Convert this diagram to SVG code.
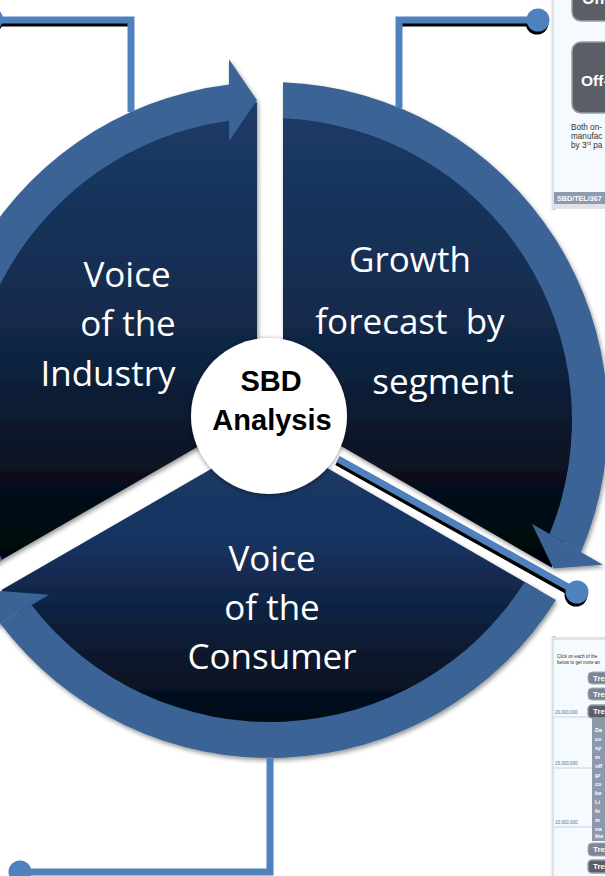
<svg xmlns="http://www.w3.org/2000/svg" width="605" height="876" viewBox="0 0 605 876">
  <defs>
    <style>
      .ring { fill: #3a6496; }
      .label { font-family: "Open Sans", "Liberation Sans", sans-serif; font-size: 35px; fill: #ffffff; text-anchor: middle; }
      .hub { font-family: "Liberation Sans", Arial, sans-serif; font-weight: bold; font-size: 29px; fill: #000000; text-anchor: middle; }
      .wire { fill: none; stroke: #4f81bd; stroke-width: 7; }
      .wire-shadow { fill: none; stroke: #000000; stroke-width: 7; }
      .dot { fill: #4f81bd; }
      .dot-shadow { fill: #000000; }
      .panel { fill: #f4fafd; }
      .btn { fill: #5b5e66; stroke: #9a9ea6; stroke-width: 1.5; }
      .btn-light { fill: #7d8494; stroke: #a9afb9; stroke-width: 1; }
      .btn-text { font-family: "Liberation Sans", Arial, sans-serif; font-weight: bold; fill: #ffffff; }
      .small { font-family: "Liberation Sans", Arial, sans-serif; fill: #333333; }
      .axis { font-family: "Liberation Sans", Arial, sans-serif; font-size: 4.5px; fill: #5a6f92; }
      .grid { stroke: #b9c9dd; stroke-width: 0.8; }
    </style>
    <linearGradient id="darkUpper" gradientUnits="userSpaceOnUse" x1="0" y1="102" x2="0" y2="567">
      <stop offset="0" stop-color="#1c3b68"/>
      <stop offset="0.45" stop-color="#132b4c"/>
      <stop offset="0.8" stop-color="#07111f"/>
      <stop offset="1" stop-color="#010408"/>
    </linearGradient>
    <linearGradient id="darkLower" gradientUnits="userSpaceOnUse" x1="0" y1="435" x2="0" y2="738">
      <stop offset="0" stop-color="#1c3b67"/>
      <stop offset="0.35" stop-color="#173360"/>
      <stop offset="0.7" stop-color="#0b1a30"/>
      <stop offset="1" stop-color="#010810"/>
    </linearGradient>
    <linearGradient id="panelEdge" x1="0" y1="0" x2="1" y2="0">
      <stop offset="0" stop-color="#ffffff" stop-opacity="0"/>
      <stop offset="1" stop-color="#9aa2ab"/>
    </linearGradient>
    <filter id="segShadow" x="-10%" y="-10%" width="120%" height="120%">
      <feDropShadow dx="1.5" dy="2.5" stdDeviation="2" flood-color="#000000" flood-opacity="0.4"/>
    </filter>
    <filter id="hubGlow" x="-20%" y="-20%" width="140%" height="140%">
      <feDropShadow dx="0" dy="1" stdDeviation="2.5" flood-color="#000000" flood-opacity="0.45"/>
    </filter>
    <filter id="wireBlur" x="-5%" y="-5%" width="110%" height="110%">
      <feGaussianBlur stdDeviation="0.6"/>
    </filter>
  </defs>

  <rect width="605" height="876" fill="#ffffff"/>

  <!-- slide preview, top right -->
  <g id="preview-top">
    <rect x="549" y="-5" width="6" height="215" fill="url(#panelEdge)"/>
    <rect x="553" y="-5" width="55" height="214" fill="#dfe3e8"/>
    <rect x="554" y="-5" width="54" height="198" class="panel"/>
    <rect x="572" y="-20" width="45" height="41" rx="9" class="btn"/>
    <text x="582" y="4" class="btn-text" font-size="16">On-</text>
    <rect x="572" y="42" width="45" height="71" rx="9" class="btn"/>
    <text x="581" y="86" class="btn-text" font-size="15.5">Off-</text>
    <text class="small" font-size="8.2">
      <tspan x="571" y="130">Both on-</tspan>
      <tspan x="571" y="139">manufac</tspan>
      <tspan x="571" y="148">by 3<tspan font-size="5" dy="-3">rd</tspan><tspan dy="3"> pa</tspan></tspan>
    </text>
    <rect x="554" y="192" width="54" height="12" fill="#8d9ab0"/>
    <text x="557" y="201" class="btn-text" font-size="7.2">SBD/TEL/367</text>
  </g>

  <!-- slide preview, bottom right -->
  <g id="preview-bottom">
    <rect x="549" y="636" width="6" height="245" fill="url(#panelEdge)"/>
    <rect x="553" y="637" width="55" height="245" fill="#dfe3e8"/>
    <rect x="554" y="640" width="54" height="240" class="panel"/>
    <text class="small" font-size="4.6" fill="#555555">
      <tspan x="557" y="658">Click on each of the</tspan>
      <tspan x="557" y="664">below to get more an</tspan>
    </text>
    <line x1="554" y1="717" x2="608" y2="717" class="grid"/>
    <line x1="554" y1="768" x2="608" y2="768" class="grid"/>
    <line x1="554" y1="827" x2="608" y2="827" class="grid"/>
    <text x="555" y="714" class="axis">20,000,000</text>
    <text x="555" y="765" class="axis">15,000,000</text>
    <text x="555" y="824" class="axis">10,000,000</text>
    <rect x="588" y="672" width="25" height="12" rx="4" class="btn-light"/>
    <text x="593" y="681" class="btn-text" font-size="8">Tre</text>
    <rect x="588" y="688" width="25" height="12" rx="4" class="btn-light" fill="#6a717e"/>
    <text x="593" y="697" class="btn-text" font-size="8">Tre</text>
    <rect x="588" y="705" width="25" height="13" rx="4" class="btn"/>
    <text x="593" y="714" class="btn-text" font-size="8">Tre</text>
    <rect x="592" y="718" width="16" height="123" fill="#8e98ab"/>
    <text class="btn-text" font-size="5.6" font-weight="normal">
      <tspan x="595" y="732">Da</tspan>
      <tspan x="595" y="741">co</tspan>
      <tspan x="595" y="750">sy</tspan>
      <tspan x="595" y="759">m</tspan>
      <tspan x="595" y="768">off</tspan>
      <tspan x="595" y="777">gr</tspan>
      <tspan x="595" y="786">co</tspan>
      <tspan x="595" y="795">be</tspan>
      <tspan x="595" y="804">Li</tspan>
      <tspan x="595" y="813">fo</tspan>
      <tspan x="595" y="822">m</tspan>
      <tspan x="595" y="831">na</tspan>
      <tspan x="595" y="838">the</tspan>
    </text>
    <rect x="588" y="843" width="25" height="13" rx="4" class="btn-light"/>
    <text x="593" y="852" class="btn-text" font-size="8">Tre</text>
    <rect x="588" y="860" width="25" height="13" rx="4" class="btn"/>
    <text x="593" y="869" class="btn-text" font-size="8">Tre</text>
  </g>

  <!-- cycle segments: dark pie slice, ring band, arrowhead -->
  <g filter="url(#segShadow)">
    <g id="voice-of-industry">
      <path d="M257,412.5 L257,102.3 A318,318 0 0 0 -11.6,567.6 Z" fill="url(#darkUpper)"/>
      <path class="ring" d="M229,84.5 A338,338 0 0 0 -29,577.6 L2.2,559.6 A302,302 0 0 1 229,120.8 Z"/>
      <path class="ring" d="M257,100.3 L229,59.3 L229,141.3 Z"/>
    </g>
    <g id="growth-forecast">
      <path d="M283,412.5 L283,102.3 A318,318 0 0 1 551.6,567.6 Z" fill="url(#darkUpper)"/>
      <path class="ring" d="M283,82.25 A338,338 0 0 1 581,552.25 L549.6,534.1 A302,302 0 0 0 283,118.3 Z"/>
      <path class="ring" d="M553.4,568.6 L531.9,523.85 L602.9,564.85 Z"/>
    </g>
    <g id="voice-of-consumer">
      <path d="M270,435 L538.6,590.1 A318,318 0 0 1 1.4,590.1 Z" fill="url(#darkLower)"/>
      <path class="ring" d="M556,600.1 A338,338 0 0 1 0,623.25 L31.4,605.1 A302,302 0 0 0 524.8,582.1 Z"/>
      <path class="ring" d="M-0.4,591.1 L49.1,594.85 L-21.9,635.85 Z"/>
    </g>
  </g>

  <!-- segment captions -->
  <g id="captions">
    <text class="label" x="127" y="287">Voice</text>
    <text class="label" x="128" y="336">of the</text>
    <text class="label" x="108" y="386">Industry</text>

    <text class="label" x="410" y="272">Growth</text>
    <text class="label" x="410" y="334">forecast&#160; by</text>
    <text class="label" x="443" y="394">segment</text>

    <text class="label" x="272" y="571">Voice</text>
    <text class="label" x="272" y="620">of the</text>
    <text class="label" x="272" y="669">Consumer</text>
  </g>

  <!-- leader lines out to the previews -->
  <g id="connectors">
    <g filter="url(#wireBlur)">
      <polyline class="wire-shadow" points="-8,23 131,23"/>
      <polyline class="wire-shadow" points="399,23 538,23"/>
      <circle class="dot-shadow" cx="-9" cy="22" r="11.5"/>
      <circle class="dot-shadow" cx="537" cy="23" r="11.5"/>
      <line class="wire-shadow" x1="337" y1="462" x2="575" y2="595"/>
      <circle class="dot-shadow" cx="576" cy="595" r="11.5"/>
    </g>
    <polyline class="wire" points="-8,20 131,20 131,112"/>
    <circle class="dot" cx="-8.5" cy="19" r="11.5"/>
    <polyline class="wire" points="538,20 399,20 399,108"/>
    <circle class="dot" cx="538" cy="20" r="11.5"/>
    <line class="wire" x1="338" y1="459" x2="577" y2="592"/>
    <circle class="dot" cx="577" cy="592" r="11.5"/>
    <polyline class="wire" points="270,757 270,872 20,872"/>
    <circle class="dot" cx="20" cy="872" r="11.5"/>
  </g>

  <!-- central hub -->
  <g id="hub">
    <circle cx="269" cy="416" r="78" fill="#ffffff" filter="url(#hubGlow)"/>
    <text class="hub" x="271" y="391">SBD</text>
    <text class="hub" x="272" y="430">Analysis</text>
  </g>
</svg>
